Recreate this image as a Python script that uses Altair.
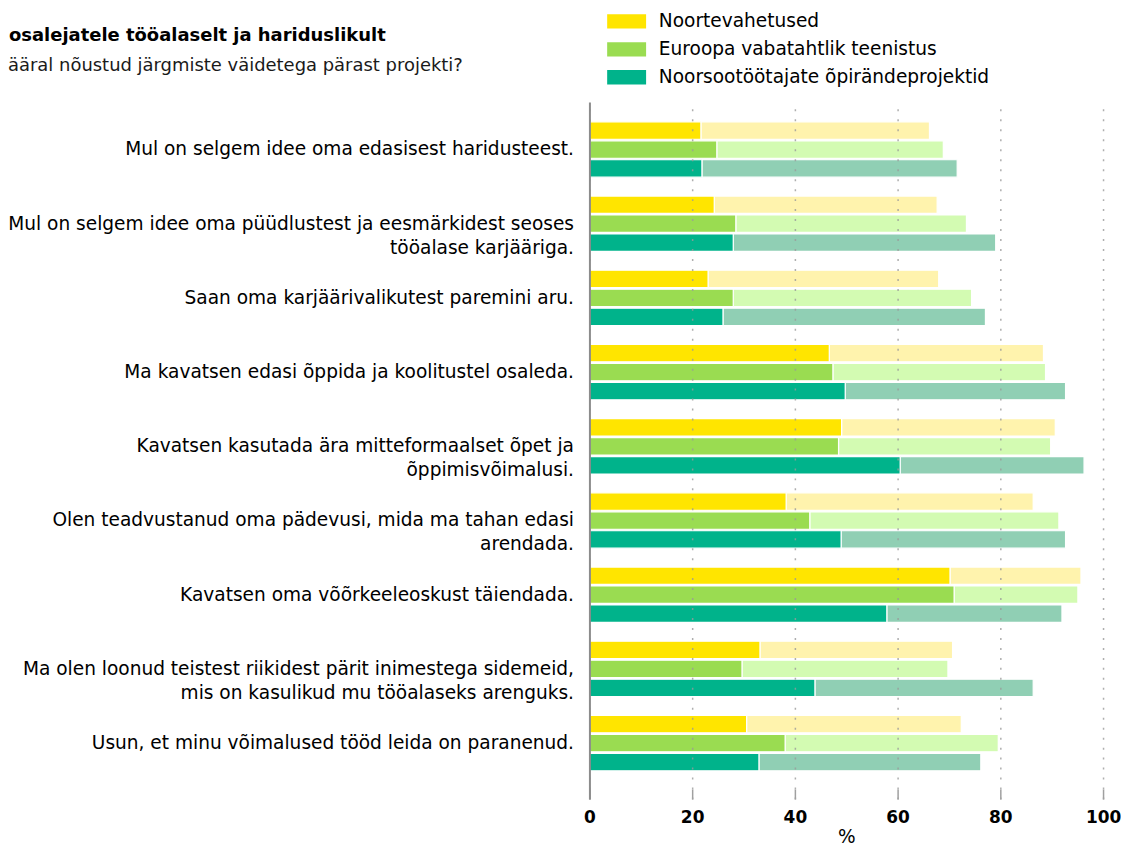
import altair as alt
import pandas as pd

# ---------------- data ----------------
title_text = "osalejatele tööalaselt ja hariduslikult"
subtitle_text = "ääral nõustud järgmiste väidetega pärast projekti?"

categories = [
    "Mul on selgem idee oma edasisest haridusteest.",
    "Mul on selgem idee oma püüdlustest ja eesmärkidest seoses\ntööalase karjääriga.",
    "Saan oma karjäärivalikutest paremini aru.",
    "Ma kavatsen edasi õppida ja koolitustel osaleda.",
    "Kavatsen kasutada ära mitteformaalset õpet ja\nõppimisvõimalusi.",
    "Olen teadvustanud oma pädevusi, mida ma tahan edasi\narendada.",
    "Kavatsen oma võõrkeeleoskust täiendada.",
    "Ma olen loonud teistest riikidest pärit inimestega sidemeid,\nmis on kasulikud mu tööalaseks arenguks.",
    "Usun, et minu võimalused tööd leida on paranenud.",
]

programs = ["Noortevahetused", "Euroopa vabatahtlik teenistus", "Noorsootöötajate õpirändeprojektid"]

# darker segment (täiesti nõus) and total incl. lighter segment (pigem nõus), in %
noorte_dark = [21.7, 24.3, 23.1, 46.7, 49.1, 38.3, 70.2, 33.2, 30.6]
noorte_total = [66.2, 67.7, 68.0, 88.4, 90.7, 86.4, 95.7, 70.7, 72.4]
evt_dark = [24.8, 28.5, 28.0, 47.4, 48.5, 42.9, 71.0, 29.7, 38.1]
evt_total = [68.9, 73.4, 74.4, 88.8, 89.8, 91.4, 95.1, 69.8, 79.6]
noors_dark = [21.9, 28.0, 26.0, 49.8, 60.5, 49.0, 57.9, 43.9, 33.0]
noors_total = [71.6, 79.1, 77.1, 92.7, 96.3, 92.7, 92.0, 86.4, 76.2]

dark_colors = ["#FFE500", "#9ADC51", "#00B38B"]
light_colors = ["#FFF3AD", "#D3FBB2", "#90CFB4"]
x_ticks = [0, 20, 40, 60, 80, 100]

# ---------------- table ----------------
series = {
    programs[0]: (noorte_dark, noorte_total),
    programs[1]: (evt_dark, evt_total),
    programs[2]: (noors_dark, noors_total),
}
dark_rows, light_rows = [], []
for prog, (dk, tot) in series.items():
    for cat, d, t in zip(categories, dk, tot):
        dark_rows.append({"category": cat, "program": prog, "start": 0.0, "end": d})
        light_rows.append({"category": cat, "shade": prog + " (light)", "program": prog, "start": d, "end": t})
dark_df = pd.DataFrame(dark_rows)
light_df = pd.DataFrame(light_rows)

FONT = "DejaVu Sans"

y_scale = alt.Scale(domain=categories, paddingInner=0.254, paddingOuter=0.3246, align=0.414)
yoff_scale = alt.Scale(domain=programs, paddingInner=0.08, paddingOuter=0)

y_enc = alt.Y(
    "category:N",
    sort=categories,
    title=None,
    scale=y_scale,
    axis=alt.Axis(
        labelExpr="split(datum.label, '\\n')",
        labelFontSize=18.6,
        labelFont=FONT,
        labelColor="#000000",
        labelLimit=0,
        labelPadding=16,
        labelLineHeight=24,
        ticks=False,
        domainColor="#8c8c8c",
        domainWidth=2,
        grid=False,
        zindex=1,
    ),
)
x_enc = alt.X(
    "start:Q",
    scale=alt.Scale(domain=[0, 100], nice=False),
    title="%",
    axis=alt.Axis(
        values=x_ticks,
        labelFontSize=17,
        labelFontWeight="bold",
        labelFont=FONT,
        labelColor="#000000",
        labelFlush=False,
        labelPadding=11,
        offset=-10,
        tickColor="#a0a0a0",
        tickSize=10,
        tickWidth=1.5,
        domain=False,
        grid=True,
        gridColor="#9a9a9a",
        gridDash=[2, 8],
        gridWidth=1.5,
        gridOpacity=0.8,
        titleFontSize=18.6,
        titleFont=FONT,
        titleFontWeight="normal",
        titleColor="#000000",
        titlePadding=2,
        zindex=1,
    ),
)

dark = alt.Chart(dark_df).mark_bar(stroke="white", strokeWidth=1.2).encode(
    y=y_enc,
    yOffset=alt.YOffset("program:N", sort=programs, scale=yoff_scale),
    x=x_enc,
    x2="end:Q",
    color=alt.Color(
        "program:N",
        sort=programs,
        scale=alt.Scale(domain=programs, range=dark_colors),
        legend=alt.Legend(
            title=None,
            orient="none",
            legendX=28,
            legendY=-90,
            labelFontSize=18.6,
            labelFont=FONT,
            labelColor="#000000",
            labelLimit=0,
            labelOffset=23,
            symbolType="M-2.44,-0.9H2.44V0.9H-2.44Z",
            symbolSize=256,
            symbolStrokeWidth=0,
            symbolOpacity=1,
            rowPadding=9,
            padding=0,
        ),
    ),
)

light = alt.Chart(light_df).mark_bar(stroke="white", strokeWidth=1.2).encode(
    y=alt.Y("category:N", sort=categories, scale=y_scale),
    yOffset=alt.YOffset("program:N", sort=programs, scale=yoff_scale),
    x=alt.X("start:Q"),
    x2="end:Q",
    color=alt.Color(
        "shade:N",
        scale=alt.Scale(domain=[p + " (light)" for p in programs], range=light_colors),
        legend=None,
    ),
)

title_df = pd.DataFrame({"t": [title_text]})
subtitle_df = pd.DataFrame({"t": [subtitle_text]})
title_mark = alt.Chart(title_df).mark_text(
    align="left", baseline="alphabetic", fontSize=18, fontWeight="bold", font=FONT, color="#000000"
).encode(text="t:N", x=alt.value(-582), y=alt.value(-61))
subtitle_mark = alt.Chart(subtitle_df).mark_text(
    align="left", baseline="alphabetic", fontSize=18, font=FONT, color="#1a1a1a"
).encode(text="t:N", x=alt.value(-583), y=alt.value(-31))

chart = (
    alt.layer(light, dark, title_mark, subtitle_mark)
    .resolve_scale(color="independent")
    .properties(
        width=515,
        height=699,
        autosize=alt.AutoSizeParams(type="none"),
        padding={"left": 583, "top": 93, "right": 18, "bottom": 56},
    )
    .configure_view(stroke=None)
)

chart.save("out.html", embed_options={"renderer": "svg", "actions": False})
